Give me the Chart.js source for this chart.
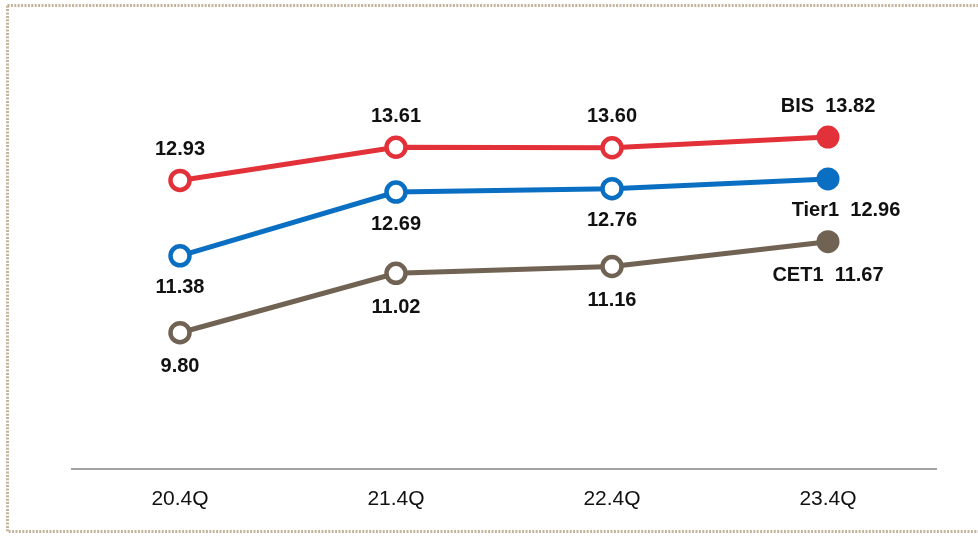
<!DOCTYPE html>
<html>
<head>
<meta charset="utf-8">
<script src="https://cdn.jsdelivr.net/npm/chart.js@4/dist/chart.umd.min.js"></script>
<style>
  html, body { margin: 0; padding: 0; background: #fff; }
  #wrap { width: 978px; height: 537px; position: relative; }
</style>
</head>
<body>
<div id="wrap"><canvas id="ratioChart"></canvas></div>
<script>
const quarters = ["20.4Q", "21.4Q", "22.4Q", "23.4Q"];
const bisRatio = [12.93, 13.61, 13.60, 13.82];
const tier1Ratio = [11.38, 12.69, 12.76, 12.96];
const cet1Ratio = [9.80, 11.02, 11.16, 11.67];

const RED = "#e3313a";
const BLUE = "#0a6fc2";
const BROWN = "#716353";

// hollow markers except the latest quarter
function pointFill(color) {
    return ctx => ctx.dataIndex === quarters.length - 1 ? color : "#ffffff";
}
function pointSize(ctx) {
    return ctx.dataIndex === quarters.length - 1 ? 11.5 : 9.5;
}
function pointBorder(ctx) {
    return ctx.dataIndex === quarters.length - 1 ? 0 : 4.5;
}

function makeSet(label, data, color, dy, dxLast) {
    return {
        label, data,
        borderColor: color, borderWidth: 5,
        pointBackgroundColor: pointFill(color),
        pointBorderColor: color,
        pointBorderWidth: pointBorder,
        pointRadius: pointSize,
        pointHoverRadius: pointSize,
        tension: 0,
        labelDy: dy,
        labelDxLast: dxLast
    };
}

const frameBorder = {
    id: "frameBorder",
    beforeDraw(chart) {
        const c = chart.ctx;
        c.save();
        c.strokeStyle = "#c4b39b";
        c.lineWidth = 3;
        c.setLineDash([2, 1.4]);
        c.strokeRect(7.5, 5.5, 1000, 526);
        c.restore();
    }
};

const valueLabels = {
    id: "valueLabels",
    afterDatasetsDraw(chart) {
        const c = chart.ctx;
        c.save();
        c.font = "bold 20px 'Liberation Sans', Arial, sans-serif";
        c.fillStyle = "#111";
        c.textAlign = "center";
        c.textBaseline = "middle";
        chart.data.datasets.forEach((ds, i) => {
            chart.getDatasetMeta(i).data.forEach((pt, j) => {
                let txt = ds.data[j].toFixed(2);
                let x = pt.x;
                if (j === ds.data.length - 1) {
                    txt = ds.label + "  " + txt;
                    x += ds.labelDxLast;
                }
                c.fillText(txt, x, pt.y + ds.labelDy);
            });
        });
        c.restore();
    }
};

new Chart(document.getElementById("ratioChart"), {
    type: "line",
    data: {
        labels: quarters,
        datasets: [
            makeSet("BIS", bisRatio, RED, -31, 0),
            makeSet("Tier1", tier1Ratio, BLUE, 32, 18),
            makeSet("CET1", cet1Ratio, BROWN, 34, 0)
        ]
    },
    options: {
        responsive: true,
        maintainAspectRatio: false,
        animation: false,
        layout: { padding: { left: 72, right: 42, top: 31, bottom: 0 } },
        plugins: { legend: { display: false }, tooltip: { enabled: false } },
        scales: {
            x: {
                offset: true,
                grid: { display: false },
                border: { display: true, color: "#a3a3a3", width: 2 },
                ticks: { color: "#111", padding: 10, font: { family: "'Liberation Sans', Arial, sans-serif", size: 21 } },
                afterFit: s => { s.height = 68; }
            },
            y: { display: false, min: 7, max: 16 }
        }
    },
    plugins: [frameBorder, valueLabels]
});
</script>
</body>
</html>
